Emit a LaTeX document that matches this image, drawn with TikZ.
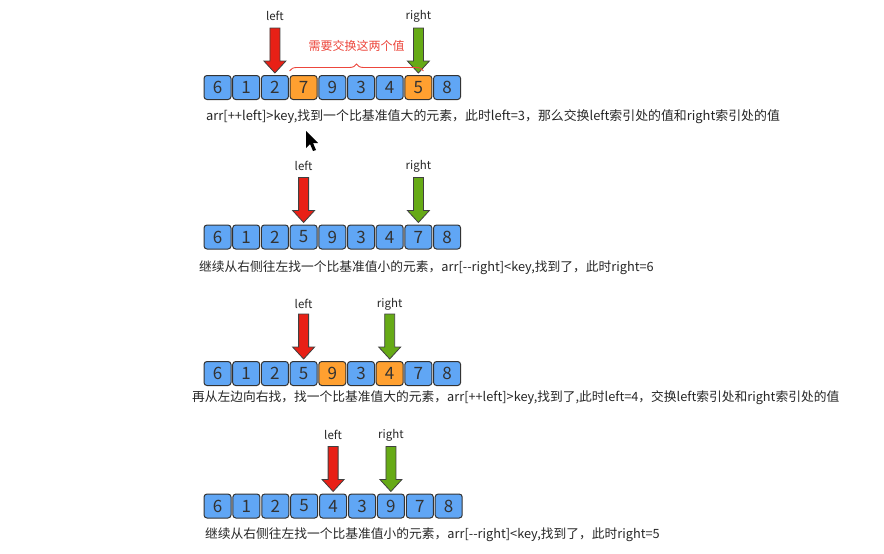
\documentclass[tikz,border=0pt]{standalone}
\definecolor{cellblue}{RGB}{96, 166, 245}
\definecolor{cellorange}{RGB}{255, 160, 48}
\definecolor{ptrred}{RGB}{232, 32, 22}
\definecolor{ptrgreen}{RGB}{102, 170, 22}
\definecolor{swapred}{RGB}{236, 70, 60}
\usepackage{fontspec}
\setmainfont{Noto Sans CJK SC}
\usepackage{tikz}
\usetikzlibrary{positioning, calc, decorations.pathreplacing}

\tikzset{
  cell/.style={draw=black!80, line width=1pt, rounded corners=3pt, fill=#1,
               minimum width=27pt, minimum height=24pt, inner sep=0pt,
               text=black!80, font=\fontsize{17}{17}\selectfont},
  lbl/.style={font=\fontsize{11.5}{12}\selectfont, text=black!85},
  caption/.style={anchor=west, inner sep=0pt, text=black!85,
                  font=\fontsize{12.75}{13}\selectfont},
  ptr/.pic={
    \draw[fill=#1, draw=black!75, line width=0.8pt]
      (0,-2) -- (-11,-14) -- (-5,-14) -- (-5,-47) -- (5,-47) -- (5,-14)
      -- (11,-14) -- cycle;
  }
}

\begin{document}
\begin{tikzpicture}[x=1pt, y=-1pt]
  \useasboundingbox (0,0) rectangle (884,554);

  % row 1
  \foreach \v/\c [count=\i from 0] in {6/cellblue,1/cellblue,2/cellblue,
      7/cellorange,9/cellblue,3/cellblue,4/cellblue,5/cellorange,8/cellblue}
    \node[cell=\c] (a\i) at (217.5+28.7*\i, 87.5) {\v};
  \pic at (a2.north) {ptr=ptrred};
  \pic at (a7.north) {ptr=ptrgreen};
  \node[lbl] (aleft) at ([yshift=59pt]a2.north) {left};
  \node[lbl] (aright) at ([yshift=59pt]a7.north) {right};
  \coordinate (bl) at ([yshift=4pt]a3.north west);
  \coordinate (br) at ([xshift=5pt, yshift=4pt]a7.north);
  \draw[swapred, line width=0.9pt, decorate,
        decoration={brace, amplitude=7pt}] (bl) -- (br);
  \node[text=swapred, font=\fontsize{12}{13}\selectfont] (swap)
        at ($(bl)!0.5!(br)+(0,-25)$) {需要交换这两个值};
  \node[caption, font=\fontsize{12.9}{13}\selectfont] (acap) at (206,117)
        {arr[++left]>key,找到一个比基准值大的元素，此时left=3，那么交换left索引处的值和right索引处的值};
  \fill[black] (306,131) -- (306,148) -- (310,144) -- (313,151) -- (316,150)
        -- (313,143) -- (318,143) -- cycle;

  % row 2
  \foreach \v [count=\i from 0] in {6,1,2,5,9,3,4,7,8}
    \node[cell=cellblue] (b\i) at (217.5+28.7*\i, 237) {\v};
  \pic at (b3.north) {ptr=ptrred};
  \pic at (b7.north) {ptr=ptrgreen};
  \node[lbl] (bleft) at ([yshift=59pt]b3.north) {left};
  \node[lbl] (bright) at ([yshift=58pt]b7.north) {right};
  \node[caption] (bcap) at (199,268)
        {继续从右侧往左找一个比基准值小的元素，arr[-{}-right]<key,找到了，此时right=6};

  % row 3
  \foreach \v/\c [count=\i from 0] in {6/cellblue,1/cellblue,2/cellblue,
      5/cellblue,9/cellorange,3/cellblue,4/cellorange,7/cellblue,8/cellblue}
    \node[cell=\c] (c\i) at (217.5+28.7*\i, 373.5) {\v};
  \pic at (c3.north) {ptr=ptrred};
  \pic at (c6.north) {ptr=ptrgreen};
  \node[lbl] (cleft) at ([yshift=57pt]c3.north) {left};
  \node[lbl] (cright) at ([yshift=57pt]c6.north) {right};
  \node[caption] (ccap) at (192,398)
        {再从左边向右找，找一个比基准值大的元素，arr[++left]>key,找到了,此时left=4，交换left索引处和right索引处的值};

  % row 4
  \foreach \v [count=\i from 0] in {6,1,2,5,4,3,9,7,8}
    \node[cell=cellblue] (d\i) at (217.5+28.9*\i, 506) {\v};
  \pic at (d4.north) {ptr=ptrred};
  \pic at (d6.north) {ptr=ptrgreen};
  \node[lbl] (dleft) at ([yshift=59pt]d4.north) {left};
  \node[lbl] (dright) at ([yshift=58pt]d6.north) {right};
  \node[caption] (dcap) at (205,535)
        {继续从右侧往左找一个比基准值小的元素，arr[-{}-right]<key,找到了，此时right=5};
\end{tikzpicture}
\end{document}
